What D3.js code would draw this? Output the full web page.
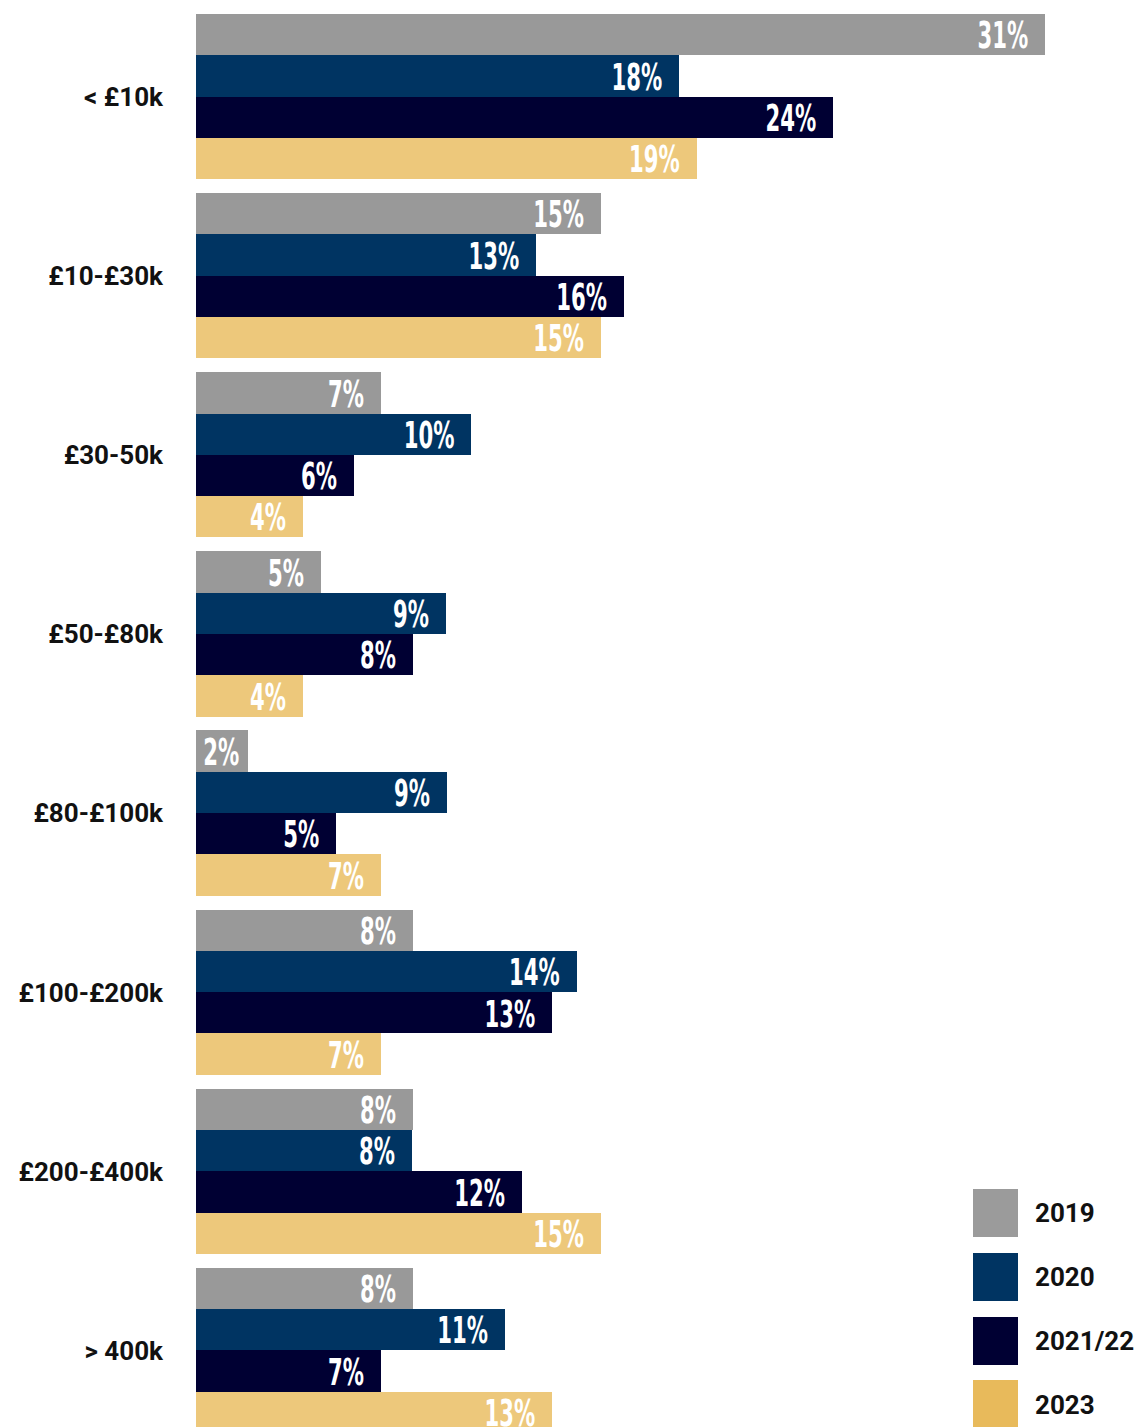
<!DOCTYPE html>
<html>
<head>
<meta charset="utf-8">
<script src="https://cdn.jsdelivr.net/npm/d3@7"></script>
<style>
  html, body { margin: 0; padding: 0; background: #ffffff; }
  svg { display: block; }
</style>
</head>
<body>
<svg id="chart"></svg>
<script>
// Income bands (rows) and survey years (series)
const categories = ["< £10k", "£10-£30k", "£30-50k", "£50-£80k", "£80-£100k", "£100-£200k", "£200-£400k", "> 400k"];
const seriesNames = ["2019", "2020", "2021/22", "2023"];

// Share of respondents per band, one array per year
const values2019 = [0.3145, 0.150, 0.0685, 0.0463, 0.0193, 0.0804, 0.0804, 0.0804];
const values2020 = [0.179, 0.126, 0.102, 0.0926, 0.093, 0.141, 0.080, 0.1144];
const values2021 = [0.236, 0.1585, 0.0585, 0.0804, 0.0519, 0.1319, 0.1207, 0.0685];
const values2023 = [0.1855, 0.150, 0.0396, 0.0396, 0.0685, 0.0685, 0.150, 0.1319];

const seriesValues = [values2019, values2020, values2021, values2023];
const barColors = ["#999999", "#003462", "#000033", "#EDC87B"];
const legendColors = ["#9B9B9B", "#003462", "#000033", "#E8BA5B"];

const W = 1139, H = 1427;
const svg = d3.select("#chart").attr("width", W).attr("height", H);

const x = d3.scaleLinear().domain([0, 0.35]).range([196, 1141]);
const y = d3.scaleBand().domain(categories).range([14, 1433]).paddingInner(0.078).paddingOuter(0);
const ySub = d3.scaleBand().domain(seriesNames).range([0, y.bandwidth()]);
const pct = d3.format(".0%");

const rows = categories.map((c, i) => ({
  category: c,
  bars: seriesNames.map((s, j) => ({ series: s, idx: j, value: seriesValues[j][i] }))
}));

const groups = svg.append("g").selectAll("g.group")
  .data(rows)
  .join("g")
  .attr("class", "group")
  .attr("transform", d => `translate(0,${y(d.category)})`);

groups.selectAll("rect")
  .data(d => d.bars)
  .join("rect")
  .attr("x", x(0))
  .attr("y", d => ySub(d.series))
  .attr("width", d => x(d.value) - x(0))
  .attr("height", ySub.bandwidth())
  .attr("fill", d => barColors[d.idx])
  .attr("shape-rendering", "crispEdges");

// Value labels: condensed white figures inside the bar end
groups.selectAll("text.val")
  .data(d => d.bars)
  .join("text")
  .attr("class", "val")
  .attr("transform", d => {
    const w = x(d.value) - x(0);
    const pad = w < 70 ? 9 : 17;
    return `translate(${x(d.value) - pad},${ySub(d.series) + ySub.bandwidth() / 2}) scale(0.62,1)`;
  })
  .attr("text-anchor", "end")
  .attr("dy", "0.36em")
  .attr("fill", "#ffffff")
  .style("font-family", "'Liberation Sans Narrow', 'DejaVu Sans Condensed', sans-serif")
  .style("font-weight", "bold")
  .style("font-size", "38px")
  .text(d => pct(d.value));

// Category labels
svg.append("g").selectAll("text")
  .data(categories)
  .join("text")
  .attr("x", 163)
  .attr("y", d => y(d) + y.bandwidth() / 2)
  .attr("dy", "0.36em")
  .attr("text-anchor", "end")
  .attr("fill", "#111111")
  .style("font-family", "Roboto, 'Noto Sans', sans-serif")
  .style("font-weight", "bold")
  .style("font-size", "26px")
  .text(d => d);

// Legend
const legY = d3.scaleBand().domain(seriesNames).range([1189, 1444]);
const legend = svg.append("g").selectAll("g")
  .data(seriesNames)
  .join("g")
  .attr("transform", d => `translate(973,${legY(d)})`);

legend.append("rect")
  .attr("width", 45)
  .attr("height", 48)
  .attr("fill", (d, i) => legendColors[i])
  .attr("shape-rendering", "crispEdges");

legend.append("text")
  .attr("x", 62)
  .attr("y", 24)
  .attr("dy", "0.36em")
  .attr("fill", "#111111")
  .style("font-family", "Roboto, 'Noto Sans', sans-serif")
  .style("font-weight", "bold")
  .style("font-size", "26px")
  .text(d => d);
</script>
</body>
</html>
